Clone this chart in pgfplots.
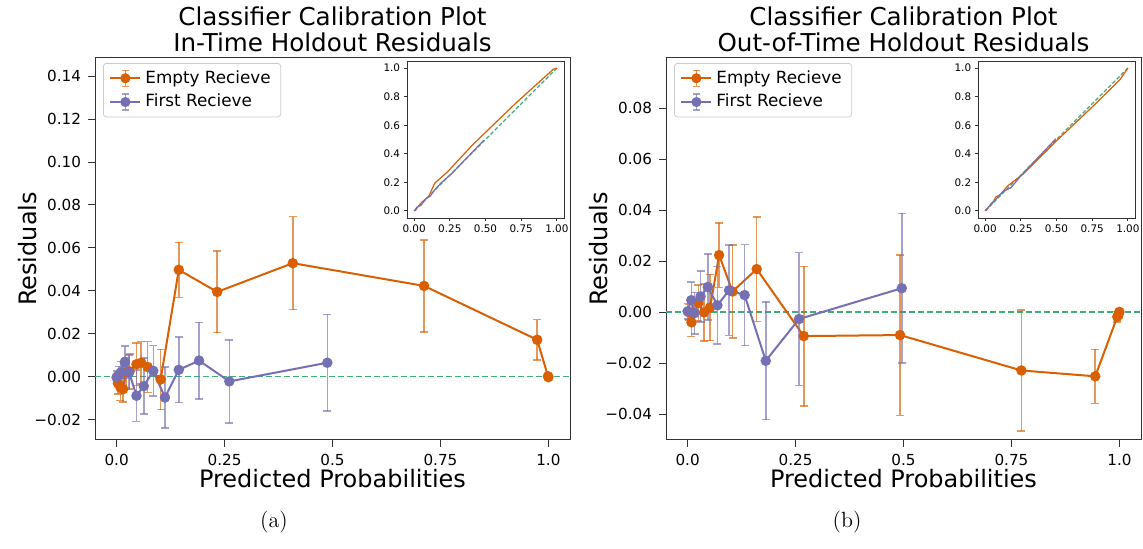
\documentclass[border=0pt]{standalone}
\usepackage{pgfplots}
\pgfplotsset{compat=1.18}
\usepackage{pgfplotstable}
\usepackage{fontspec}
\newfontfamily\dv{DejaVu Sans}
\definecolor{orangeC}{HTML}{D95F02}
\definecolor{blueC}{HTML}{7570B3}
\definecolor{greenC}{HTML}{3DAE78}

\pgfplotstableread{
x y e
0.003 -0.0030 0.0050
0.009 -0.0050 0.0060
0.015 -0.0058 0.0060
0.022 0.0020 0.0070
0.030 0.0025 0.0080
0.046 0.0058 0.0100
0.057 0.0065 0.0098
0.072 0.0045 0.0118
0.102 -0.0013 0.0140
0.144 0.0498 0.0128
0.233 0.0395 0.0190
0.408 0.0529 0.0217
0.712 0.0423 0.0214
0.974 0.0172 0.0094
0.999 0.0002 0.0008
1.000 -0.0002 0.0005
}\leftE
\pgfplotstableread{
x y e
0.000 -0.0003 0.0030
0.005 0.0008 0.0040
0.010 0.0020 0.0050
0.019 0.0068 0.0075
0.029 0.0020 0.0080
0.046 -0.0089 0.0119
0.063 -0.0044 0.0130
0.085 0.0027 0.0118
0.112 -0.0097 0.0143
0.144 0.0032 0.0153
0.191 0.0075 0.0178
0.261 -0.0022 0.0194
0.488 0.0065 0.0225
}\leftF
\pgfplotstableread{
x y e
0.003 0.0000 0.0030
0.009 -0.0040 0.0055
0.025 0.0036 0.0070
0.038 -0.0001 0.0112
0.052 0.0018 0.0130
0.073 0.0224 0.0127
0.104 0.0081 0.0182
0.160 0.0169 0.0205
0.269 -0.0094 0.0274
0.492 -0.0090 0.0315
0.773 -0.0229 0.0238
0.944 -0.0252 0.0106
0.995 -0.0018 0.0020
0.998 -0.0008 0.0015
1.000 0.0001 0.0010
}\rightE
\pgfplotstableread{
x y e
0.000 0.0003 0.0030
0.0085 0.0047 0.0072
0.016 -0.0004 0.0082
0.030 0.0062 0.0100
0.047 0.0099 0.0130
0.069 0.0027 0.0152
0.096 0.0086 0.0177
0.132 0.0067 0.0198
0.181 -0.0191 0.0231
0.258 -0.0027 0.0261
0.496 0.0094 0.0294
}\rightF

\pgfplotsset{
  mainax/.style={
    scale only axis, width=237.5pt, height=191pt,
    xmin=-0.05, xmax=1.05,
    axis line style={black!80, line width=0.5pt},
    tick align=outside, tick pos=left,
    major tick length=3.5pt,
    tick style={black!80, line width=0.5pt},
    scaled y ticks=false,
    xtick={0,0.25,0.5,0.75,1},
    xticklabels={0.0,0.25,0.5,0.75,1.0},
    ticklabel style={font=\dv\fontsize{7.6}{9}\selectfont},
    every axis title shift=0pt,
    title style={at={(axis description cs:0.5,1)}, anchor=south, yshift=3pt, inner sep=0pt, align=center, font=\dv\fontsize{12.3}{13}\selectfont},
    xlabel style={at={(axis description cs:0.5,-0.102)}, anchor=center, font=\dv\fontsize{12}{13}\selectfont},
    ylabel style={at={(axis description cs:-0.141,0.5)}, anchor=center, font=\dv\fontsize{12}{13}\selectfont},
    xlabel={Predicted Probabilities}, ylabel={Residuals},
    legend style={at={(axis description cs:0,1)}, anchor=north west, xshift=4pt, yshift=-2.5pt,
      draw=black!20, rounded corners=1.5pt, font=\dv\fontsize{8.4}{9.5}\selectfont,
      inner xsep=3pt, inner ysep=1.5pt, row sep=0pt},
    legend cell align=left,
  },
  eplot/.style={color=#1, line width=1pt, mark=*, mark size=2.1pt, mark options={fill=#1, draw=#1},
    error bars/.cd, y dir=both, y explicit,
    error bar style={color=#1, opacity=0.65, line width=0.75pt},
    error mark options={rotate=90, mark size=2pt, line width=0.75pt, color=#1, opacity=0.65}},
  legimg/.style={legend image code/.code={
    \draw[#1, line width=1pt] (0pt,0pt) -- (15pt,0pt);
    \draw[#1, opacity=0.65, line width=0.75pt] (7.5pt,-4pt) -- (7.5pt,4pt);
    \draw[#1, opacity=0.65, line width=0.75pt] (5.7pt,-4pt) -- (9.3pt,-4pt);
    \draw[#1, opacity=0.65, line width=0.75pt] (5.7pt,4pt) -- (9.3pt,4pt);
    \fill[#1] (7.5pt,0pt) circle (2pt);}},
  inset/.style={
    scale only axis, width=78.5pt, height=78.5pt,
    xmin=-0.05, xmax=1.05, ymin=-0.05, ymax=1.05,
    axis background/.style={fill=white},
    axis line style={black!80, line width=0.4pt},
    tick align=outside, tick pos=left, major tick length=1.75pt,
    tick style={black!80, line width=0.4pt},
    xtick={0,0.25,0.5,0.75,1}, xticklabels={0.00,0.25,0.50,0.75,1.00},
    ytick={0,0.2,0.4,0.6,0.8,1}, yticklabels={0.0,0.2,0.4,0.6,0.8,1.0},
    ticklabel style={font=\dv\fontsize{5.2}{6}\selectfont, inner sep=1.5pt},
  },
  zeroline/.style={color=greenC, line width=0.8pt, dash pattern=on 3pt off 1.5pt, forget plot},
}

\begin{document}
\begin{tikzpicture}
\path (0,0) rectangle (571.5pt,274.5pt);

% ---------- left main ----------
\begin{axis}[mainax, at={(47.5pt,54.5pt)}, anchor=south west,
  ymin=-0.0295, ymax=0.1485, ytick={-0.02,0,0.02,0.04,0.06,0.08,0.10,0.12,0.14},
  yticklabels={−0.02,0.00,0.02,0.04,0.06,0.08,0.10,0.12,0.14},
  title={Classifier Calibration Plot\\In-Time Holdout Residuals}]
\addplot[zeroline] coordinates {(-0.05,0) (1.05,0)};
\addplot[legimg=orangeC, eplot=orangeC] table[x=x, y=y, y error=e] {\leftE};
\addlegendentry{Empty Recieve}
\addplot[legimg=blueC, eplot=blueC] table[x=x, y=y, y error=e] {\leftF};
\addlegendentry{First Recieve}
\end{axis}

\begin{axis}[inset, at={(203.5pt,165.5pt)}, anchor=south west]
\addplot[color=greenC, line width=0.6pt, dash pattern=on 2pt off 1pt] coordinates {(0,0) (1,1)};
\addplot[orangeC, line width=0.6pt] table[x=x, y expr=\thisrow{x}+\thisrow{y}] {\leftE};
\addplot[blueC, line width=0.6pt] table[x=x, y expr=\thisrow{x}+\thisrow{y}] {\leftF};
\end{axis}

% ---------- right main ----------
\begin{axis}[mainax, at={(333pt,54.5pt)}, anchor=south west,
  ymin=-0.0502, ymax=0.0998, ytick={-0.04,-0.02,0,0.02,0.04,0.06,0.08,0.10},
  yticklabels={−0.04,−0.02,0.00,0.02,0.04,0.06,0.08,0.10},
  title={Classifier Calibration Plot\\Out-of-Time Holdout Residuals}]
\addplot[zeroline] coordinates {(-0.05,0) (1.05,0)};
\addplot[legimg=orangeC, eplot=orangeC] table[x=x, y=y, y error=e] {\rightE};
\addlegendentry{Empty Recieve}
\addplot[legimg=blueC, eplot=blueC] table[x=x, y=y, y error=e] {\rightF};
\addlegendentry{First Recieve}
\end{axis}

\begin{axis}[inset, at={(489pt,165.5pt)}, anchor=south west]
\addplot[color=greenC, line width=0.6pt, dash pattern=on 2pt off 1pt] coordinates {(0,0) (1,1)};
\addplot[orangeC, line width=0.6pt] table[x=x, y expr=\thisrow{x}+\thisrow{y}] {\rightE};
\addplot[blueC, line width=0.6pt] table[x=x, y expr=\thisrow{x}+\thisrow{y}] {\rightF};
\end{axis}

\node[font=\fontsize{11}{13}\selectfont] at (137pt,13.5pt) {(a)};
\node[font=\fontsize{11}{13}\selectfont] at (423.5pt,13.5pt) {(b)};
\end{tikzpicture}
\end{document}
